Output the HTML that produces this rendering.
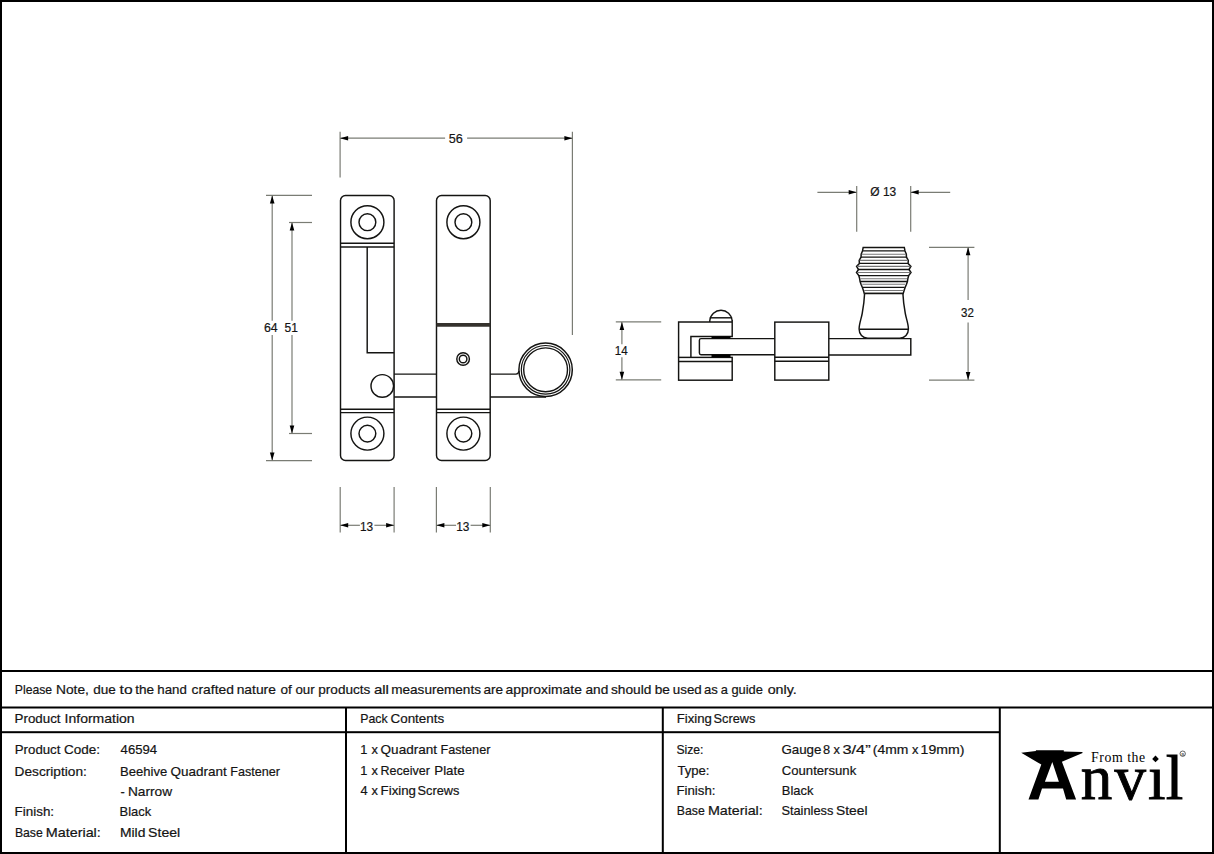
<!DOCTYPE html>
<html><head><meta charset="utf-8">
<style>
html,body{margin:0;padding:0;background:#fff;}
body{width:1214px;height:854px;overflow:hidden;position:relative;}
svg{position:absolute;left:0;top:0;display:block;}
text{font-family:"Liberation Sans",sans-serif;}
</style></head><body>
<svg width="1214" height="854" viewBox="0 0 1214 854">
<g fill="#000">
<rect x="0" y="0" width="1214" height="2"/>
<rect x="0" y="852" width="1214" height="2"/>
<rect x="0" y="0" width="2" height="854"/>
<rect x="1212" y="0" width="2" height="854"/>
<rect x="0" y="670" width="1214" height="2"/>
<rect x="0" y="706.5" width="1214" height="2"/>
<rect x="0" y="731.2" width="1000" height="2"/>
<rect x="345" y="707" width="2" height="147"/>
<rect x="661.8" y="707" width="2" height="147"/>
<rect x="998.8" y="707" width="2" height="147"/>
</g>

<g font-size="12.8" fill="#141414" stroke="#141414" stroke-width="0.2">
<text x="14.6" y="723.3" textLength="45.9" lengthAdjust="spacingAndGlyphs">Product</text>
<text x="64.6" y="723.3" textLength="70.0" lengthAdjust="spacingAndGlyphs">Information</text>
<text x="360.2" y="723.3" textLength="27.4" lengthAdjust="spacingAndGlyphs">Pack</text>
<text x="390.5" y="723.3" textLength="53.7" lengthAdjust="spacingAndGlyphs">Contents</text>
<text x="676.7" y="723.3" textLength="35.2" lengthAdjust="spacingAndGlyphs">Fixing</text>
<text x="713.5" y="723.3" textLength="41.8" lengthAdjust="spacingAndGlyphs">Screws</text>
<text x="14.8" y="754.3" textLength="45.6" lengthAdjust="spacingAndGlyphs">Product</text>
<text x="63.9" y="754.3" textLength="36.1" lengthAdjust="spacingAndGlyphs">Code:</text>
<text x="120.6" y="754.3" textLength="36.5" lengthAdjust="spacingAndGlyphs">46594</text>
<text x="14.6" y="775.5" textLength="72.2" lengthAdjust="spacingAndGlyphs">Description:</text>
<text x="120.1" y="775.5" textLength="47.2" lengthAdjust="spacingAndGlyphs">Beehive</text>
<text x="170.5" y="775.5" textLength="56.3" lengthAdjust="spacingAndGlyphs">Quadrant</text>
<text x="230.3" y="775.5" textLength="49.7" lengthAdjust="spacingAndGlyphs">Fastener</text>
<text x="120.6" y="795.8">-</text>
<text x="127.9" y="795.8" textLength="44.2" lengthAdjust="spacingAndGlyphs">Narrow</text>
<text x="14.6" y="815.9" textLength="39.5" lengthAdjust="spacingAndGlyphs">Finish:</text>
<text x="119.6" y="815.9" textLength="31.6" lengthAdjust="spacingAndGlyphs">Black</text>
<text x="14.9" y="836.6" textLength="27.9" lengthAdjust="spacingAndGlyphs">Base</text>
<text x="45.8" y="836.6" textLength="55.0" lengthAdjust="spacingAndGlyphs">Material:</text>
<text x="119.9" y="836.6" textLength="25.5" lengthAdjust="spacingAndGlyphs">Mild</text>
<text x="148.1" y="836.6" textLength="32.1" lengthAdjust="spacingAndGlyphs">Steel</text>
<text x="360.3" y="754.4">1</text>
<text x="371.4" y="754.4">x</text>
<text x="380.6" y="754.4" textLength="56.4" lengthAdjust="spacingAndGlyphs">Quadrant</text>
<text x="440.5" y="754.4" textLength="49.9" lengthAdjust="spacingAndGlyphs">Fastener</text>
<text x="360.3" y="775.0">1</text>
<text x="371.4" y="775.0">x</text>
<text x="380.6" y="775.0" textLength="49.3" lengthAdjust="spacingAndGlyphs">Receiver</text>
<text x="434.3" y="775.0" textLength="30.3" lengthAdjust="spacingAndGlyphs">Plate</text>
<text x="360.6" y="795.2">4</text>
<text x="371.4" y="795.2">x</text>
<text x="380.6" y="795.2" textLength="35.4" lengthAdjust="spacingAndGlyphs">Fixing</text>
<text x="417.6" y="795.2" textLength="41.8" lengthAdjust="spacingAndGlyphs">Screws</text>
<text x="676.4" y="754.2" textLength="27.1" lengthAdjust="spacingAndGlyphs">Size:</text>
<text x="781.4" y="754.2" textLength="40.1" lengthAdjust="spacingAndGlyphs">Gauge</text>
<text x="822.9" y="754.2">8</text>
<text x="833.4" y="754.2">x</text>
<text x="842.4" y="754.2" textLength="28.3" lengthAdjust="spacingAndGlyphs">3/4”</text>
<text x="872.8" y="754.2" textLength="35.5" lengthAdjust="spacingAndGlyphs">(4mm</text>
<text x="912.0" y="754.2">x</text>
<text x="920.6" y="754.2" textLength="43.8" lengthAdjust="spacingAndGlyphs">19mm)</text>
<text x="677.4" y="774.6" textLength="32.1" lengthAdjust="spacingAndGlyphs">Type:</text>
<text x="781.8" y="774.6" textLength="74.4" lengthAdjust="spacingAndGlyphs">Countersunk</text>
<text x="676.4" y="794.9" textLength="39.1" lengthAdjust="spacingAndGlyphs">Finish:</text>
<text x="781.8" y="794.9" textLength="31.6" lengthAdjust="spacingAndGlyphs">Black</text>
<text x="676.8" y="815.2" textLength="28.0" lengthAdjust="spacingAndGlyphs">Base</text>
<text x="707.9" y="815.2" textLength="54.9" lengthAdjust="spacingAndGlyphs">Material:</text>
<text x="781.4" y="815.2" textLength="52.0" lengthAdjust="spacingAndGlyphs">Stainless</text>
<text x="835.9" y="815.2" textLength="31.6" lengthAdjust="spacingAndGlyphs">Steel</text>
</g>
<g fill="#141414" stroke="#141414" stroke-width="0.2">
<text font-size="13.5" x="448.8" y="142.8" textLength="14.1" lengthAdjust="spacingAndGlyphs">56</text>
<text font-size="12.5" x="264.0" y="331.9" textLength="13.7" lengthAdjust="spacingAndGlyphs">64</text>
<text font-size="12.5" x="284.5" y="331.9" textLength="13.3" lengthAdjust="spacingAndGlyphs">51</text>
<text font-size="13.5" x="360.0" y="530.7" textLength="13.2" lengthAdjust="spacingAndGlyphs">13</text>
<text font-size="13.5" x="456.2" y="530.7" textLength="13.2" lengthAdjust="spacingAndGlyphs">13</text>
<text font-size="12.5" x="614.8" y="354.5" textLength="12.9" lengthAdjust="spacingAndGlyphs">14</text>
<text font-size="12.5" x="961.1" y="317.05" textLength="12.8" lengthAdjust="spacingAndGlyphs">32</text>
<text font-size="12.5" x="870.3" y="195.7" textLength="25.9" lengthAdjust="spacingAndGlyphs">Ø 13</text>
</g>
<g font-size="12.8" fill="#141414" stroke="#141414" stroke-width="0.2">
<text x="14.8" y="693.8" textLength="37.3" lengthAdjust="spacingAndGlyphs">Please</text>
<text x="56.0" y="693.8" textLength="32.9" lengthAdjust="spacingAndGlyphs">Note,</text>
<text x="93.2" y="693.8" textLength="22.6" lengthAdjust="spacingAndGlyphs">due</text>
<text x="119.6" y="693.8" textLength="13.0" lengthAdjust="spacingAndGlyphs">to</text>
<text x="135.2" y="693.8" textLength="18.9" lengthAdjust="spacingAndGlyphs">the</text>
<text x="157.3" y="693.8" textLength="29.5" lengthAdjust="spacingAndGlyphs">hand</text>
<text x="191.6" y="693.8" textLength="42.3" lengthAdjust="spacingAndGlyphs">crafted</text>
<text x="236.7" y="693.8" textLength="39.2" lengthAdjust="spacingAndGlyphs">nature</text>
<text x="280.5" y="693.8" textLength="11.3" lengthAdjust="spacingAndGlyphs">of</text>
<text x="295.4" y="693.8" textLength="19.2" lengthAdjust="spacingAndGlyphs">our</text>
<text x="318.3" y="693.8" textLength="52.1" lengthAdjust="spacingAndGlyphs">products</text>
<text x="373.9" y="693.8" textLength="15.0" lengthAdjust="spacingAndGlyphs">all</text>
<text x="391.2" y="693.8" textLength="89.8" lengthAdjust="spacingAndGlyphs">measurements</text>
<text x="483.5" y="693.8" textLength="19.6" lengthAdjust="spacingAndGlyphs">are</text>
<text x="505.6" y="693.8" textLength="76.3" lengthAdjust="spacingAndGlyphs">approximate</text>
<text x="585.5" y="693.8" textLength="22.8" lengthAdjust="spacingAndGlyphs">and</text>
<text x="611.0" y="693.8" textLength="40.4" lengthAdjust="spacingAndGlyphs">should</text>
<text x="654.7" y="693.8" textLength="15.2" lengthAdjust="spacingAndGlyphs">be</text>
<text x="672.8" y="693.8" textLength="29.0" lengthAdjust="spacingAndGlyphs">used</text>
<text x="704.1" y="693.8" textLength="13.8" lengthAdjust="spacingAndGlyphs">as</text>
<text x="720.8" y="693.8">a</text>
<text x="731.4" y="693.8" textLength="31.6" lengthAdjust="spacingAndGlyphs">guide</text>
<text x="767.7" y="693.8" textLength="29.1" lengthAdjust="spacingAndGlyphs">only.</text>
</g>
<!-- drawing -->
<g fill="none" stroke="#141412" stroke-width="1.45">
<!-- left plate -->
<rect x="340.5" y="195.5" width="53.6" height="265" rx="5"/>
<circle cx="367.4" cy="222.2" r="16.5"/>
<circle cx="367.4" cy="222.2" r="8.4"/>
<line x1="340.5" y1="243.3" x2="394.1" y2="243.3"/>
<line x1="340.5" y1="246.9" x2="394.1" y2="246.9"/>
<polyline points="367.2,246.9 367.2,352.8 394.1,352.8"/>
<circle cx="382.3" cy="385.9" r="11.3"/>
<line x1="340.5" y1="409.2" x2="394.1" y2="409.2"/>
<line x1="340.5" y1="412.6" x2="394.1" y2="412.6"/>
<circle cx="367.4" cy="433.6" r="16.5"/>
<circle cx="367.4" cy="433.6" r="8.4"/>
<!-- bar between -->
<line x1="394.1" y1="374.1" x2="436.5" y2="374.1"/>
<line x1="394.1" y1="396.9" x2="436.5" y2="396.9"/>
<!-- right plate -->
<rect x="436.5" y="195.5" width="53.7" height="265" rx="5"/>
<circle cx="463.4" cy="222.2" r="16.5"/>
<circle cx="463.4" cy="222.2" r="8.4"/>
<line x1="436.5" y1="324.8" x2="490.2" y2="324.8" stroke="#35322d" stroke-width="3.7"/>
<circle cx="463.1" cy="359" r="6.3"/>
<circle cx="463.1" cy="359" r="3.8"/>
<line x1="436.5" y1="409.2" x2="490.2" y2="409.2"/>
<line x1="436.5" y1="412.6" x2="490.2" y2="412.6"/>
<circle cx="463.4" cy="433.6" r="16.5"/>
<circle cx="463.4" cy="433.6" r="8.4"/>
<!-- arm to ring -->
<path d="M490.2,374.1 L516,374.1 Q518.5,374.1 519,371"/>
<line x1="490.2" y1="397" x2="546" y2="397"/>
<circle cx="545.6" cy="369.8" r="26.7" stroke-width="1.5"/>
<circle cx="545.6" cy="369.8" r="24.3" stroke-width="1.2"/>
<circle cx="545.6" cy="369.8" r="21.9" stroke-width="1.4"/>
</g>

<!-- dimension lines -->
<g stroke="#7a7c74" stroke-width="1.2" fill="none">
<!-- 56 -->
<line x1="340.1" y1="131.8" x2="340.1" y2="177.4"/>
<line x1="572.4" y1="131.8" x2="572.4" y2="335"/>
<line x1="340.1" y1="138.1" x2="445.1" y2="138.1"/>
<line x1="467.1" y1="138.1" x2="572.4" y2="138.1"/>
<!-- 64 / 51 -->
<line x1="266" y1="195.4" x2="312" y2="195.4"/>
<line x1="266" y1="460.6" x2="312" y2="460.6"/>
<line x1="289" y1="222.5" x2="312" y2="222.5"/>
<line x1="289" y1="433.5" x2="312" y2="433.5"/>
<line x1="272.2" y1="195.4" x2="272.2" y2="320.8"/>
<line x1="272.2" y1="335" x2="272.2" y2="460.6"/>
<line x1="292" y1="222.5" x2="292" y2="320.8"/>
<line x1="292" y1="335" x2="292" y2="433.5"/>
<!-- 13 13 -->
<line x1="340.2" y1="486.9" x2="340.2" y2="532.4"/>
<line x1="394.1" y1="486.9" x2="394.1" y2="532.4"/>
<line x1="340.2" y1="525.3" x2="359.9" y2="525.3"/>
<line x1="374.4" y1="525.3" x2="394.1" y2="525.3"/>
<line x1="436.4" y1="486.9" x2="436.4" y2="532.4"/>
<line x1="490.3" y1="486.9" x2="490.3" y2="532.4"/>
<line x1="436.4" y1="525.3" x2="456.1" y2="525.3"/>
<line x1="470.6" y1="525.3" x2="490.3" y2="525.3"/>
<!-- 14 -->
<line x1="615.8" y1="321.9" x2="661.2" y2="321.9"/>
<line x1="615.8" y1="379.8" x2="661.2" y2="379.8"/>
<line x1="621.9" y1="321.9" x2="621.9" y2="344.2"/>
<line x1="621.9" y1="357.3" x2="621.9" y2="379.8"/>
<!-- diam 13 -->
<line x1="856.7" y1="186.1" x2="856.7" y2="231.8"/>
<line x1="910.7" y1="186.1" x2="910.7" y2="231.8"/>
<line x1="817.4" y1="192.3" x2="856.7" y2="192.3"/>
<line x1="910.7" y1="192.3" x2="950.2" y2="192.3"/>
<!-- 32 -->
<line x1="929" y1="247.3" x2="974.4" y2="247.3"/>
<line x1="929" y1="380.1" x2="974.4" y2="380.1"/>
<line x1="968.1" y1="247.3" x2="968.1" y2="300"/>
<line x1="968.1" y1="322.4" x2="968.1" y2="380.1"/>
</g>
<!-- side view -->
<g fill="none" stroke="#141412" stroke-width="1.45">
<path d="M732.2,320 V336.5 H690.9 V357.4 M678.6,357.4 V322 H732.2"/>
<path d="M709.8,322 V320.5 A11.25,11.25 0 0 1 732.2,320.5"/>
<line x1="709.8" y1="317.8" x2="732.2" y2="317.8"/>
<rect x="678.6" y="357.4" width="53.6" height="22.8"/>
<line x1="678.6" y1="361.5" x2="732.2" y2="361.5"/>
<path d="M774.8,338.6 H701 Q699.4,338.6 699.4,340.2 V353 Q699.4,354.7 701,354.7 H774.8"/>
<path d="M828.8,338.6 H910.8 V354.9 H828.8"/>
<rect x="774.8" y="322.1" width="54" height="58"/>
<line x1="774.8" y1="357.3" x2="828.8" y2="357.3"/>
<line x1="774.8" y1="361.3" x2="828.8" y2="361.3"/>
<path d="M863.2,247.4 L862.5,250.9 L861.2,254.2 L861.0,257.2 L859.2,260.4 L859.4,263.4 L856.6,266.4 L858.5,269.5 L856.5,272.5 L858.8,275.6 L859.6,278.5 L860.1,281.5 L861.0,284.3 L862.3,287.3 L863.4,290.5 L864.3,293.6 L903.2,293.6 L904.1,290.5 L905.2,287.3 L906.5,284.3 L907.4,281.5 L907.9,278.5 L908.7,275.6 L911.0,272.5 L909.0,269.5 L910.9,266.4 L908.1,263.4 L908.3,260.4 L906.5,257.2 L906.3,254.2 L905.0,250.9 L904.3,247.4 Z" stroke-width="1.5"/>
<path d="M864.6,293.6 C864.3,300 863.6,306 862.2,313.5 C861.2,319 859.1,324 859.1,329 C859.1,334 862.5,338.2 867.8,338.2 L899.7,338.2 C905,338.2 908.4,334 908.4,329 C908.4,324 906.3,319 905.3,313.5 C903.9,306 903.2,300 902.9,293.6" fill="#fff"/>
<line x1="864.3" y1="293.6" x2="903.2" y2="293.6" stroke-width="1.5"/>
<line x1="859.4" y1="329.3" x2="908.1" y2="329.3"/>
<line x1="862.5" y1="250.9" x2="905.0" y2="250.9" stroke-width="1.3"/>
<line x1="861.0" y1="257.2" x2="906.5" y2="257.2" stroke-width="1.3"/>
<line x1="859.4" y1="263.4" x2="908.1" y2="263.4" stroke-width="1.3"/>
<line x1="858.5" y1="269.5" x2="909.0" y2="269.5" stroke-width="1.3"/>
<line x1="858.8" y1="275.6" x2="908.7" y2="275.6" stroke-width="1.3"/>
<line x1="860.6" y1="281.5" x2="906.9" y2="281.5" stroke-width="1.3"/>
<line x1="862.9" y1="287.3" x2="904.6" y2="287.3" stroke-width="1.3"/>
<line x1="861.7" y1="254.2" x2="905.8" y2="254.2" stroke="#777" stroke-width="1.1"/>
<line x1="859.7" y1="260.4" x2="907.8" y2="260.4" stroke="#777" stroke-width="1.1"/>
<line x1="857.1" y1="266.4" x2="910.4" y2="266.4" stroke="#777" stroke-width="1.1"/>
<line x1="857.0" y1="272.5" x2="910.5" y2="272.5" stroke="#777" stroke-width="1.1"/>
<line x1="860.5" y1="278.7" x2="907.0" y2="278.7" stroke="#777" stroke-width="1.1"/>
<line x1="862.3" y1="284.3" x2="905.2" y2="284.3" stroke="#777" stroke-width="1.1"/>
<line x1="864.2" y1="290.5" x2="903.3" y2="290.5" stroke="#777" stroke-width="1.1"/>
</g>
<g fill="#000"><rect x="711.5" y="336.4" width="19" height="2.2"/><rect x="711.5" y="354.6" width="19" height="2.8"/></g>
<!-- arrows -->
<g fill="#000" stroke="none">
<polygon points="340.1,138.2 348.1,135.9 348.1,140.5"/>
<polygon points="572.4,138.2 564.4,135.9 564.4,140.5"/>
<polygon points="272.2,195.4 269.9,203.4 274.5,203.4"/>
<polygon points="272.2,460.6 269.9,452.6 274.5,452.6"/>
<polygon points="292.0,222.5 289.7,230.5 294.3,230.5"/>
<polygon points="292.0,433.5 289.7,425.5 294.3,425.5"/>
<polygon points="340.2,525.3 348.2,523.0 348.2,527.6"/>
<polygon points="394.1,525.3 386.1,523.0 386.1,527.6"/>
<polygon points="436.4,525.3 444.4,523.0 444.4,527.6"/>
<polygon points="490.3,525.3 482.3,523.0 482.3,527.6"/>
<polygon points="621.9,321.9 619.6,329.9 624.2,329.9"/>
<polygon points="621.9,379.8 619.6,371.8 624.2,371.8"/>
<polygon points="856.7,192.3 848.7,190.0 848.7,194.6"/>
<polygon points="910.7,192.3 918.7,190.0 918.7,194.6"/>
<polygon points="968.1,247.3 965.8,255.3 970.4,255.3"/>
<polygon points="968.1,380.1 965.8,372.1 970.4,372.1"/>
</g>
<!-- logo -->
<g fill="#000" stroke="none">
<path fill-rule="evenodd" d="M1021.2,752.8 L1035.9,751.0 L1035.9,750.2 L1063.8,750.2 L1063.8,751.4 L1082.3,752.1 L1082.6,752.9 L1061.9,761.7 L1076.1,799.4 L1066.2,799.4 L1063,788.4 L1042,788.4 L1038.4,799.4 L1028.5,799.4 L1041.3,764.6 Z M1052.3,762.1 L1058.9,781.8 L1044.9,781.8 Z"/>
<text x="1080.7 1114.6 1147.9 1165.8" y="799.3" style="font-family:'Liberation Serif'" font-size="63" fill="#000" stroke="#000" stroke-width="0.9">nvıl</text>
<path d="M1155.5,755.6 L1158.8,758.9 L1155.5,762.2 L1152.2,758.9 Z"/>
<text x="1091.1" y="761.7" style="font-family:'Liberation Serif'" font-size="13.8" textLength="54" lengthAdjust="spacing" fill="#000">From the</text>
<circle cx="1182.7" cy="753.7" r="2.7" fill="none" stroke="#000" stroke-width="0.6"/>
<text x="1181.2" y="755.6" style="font-family:'Liberation Serif'" font-size="5" fill="#000">R</text>
</g>

</svg>
</body></html>
